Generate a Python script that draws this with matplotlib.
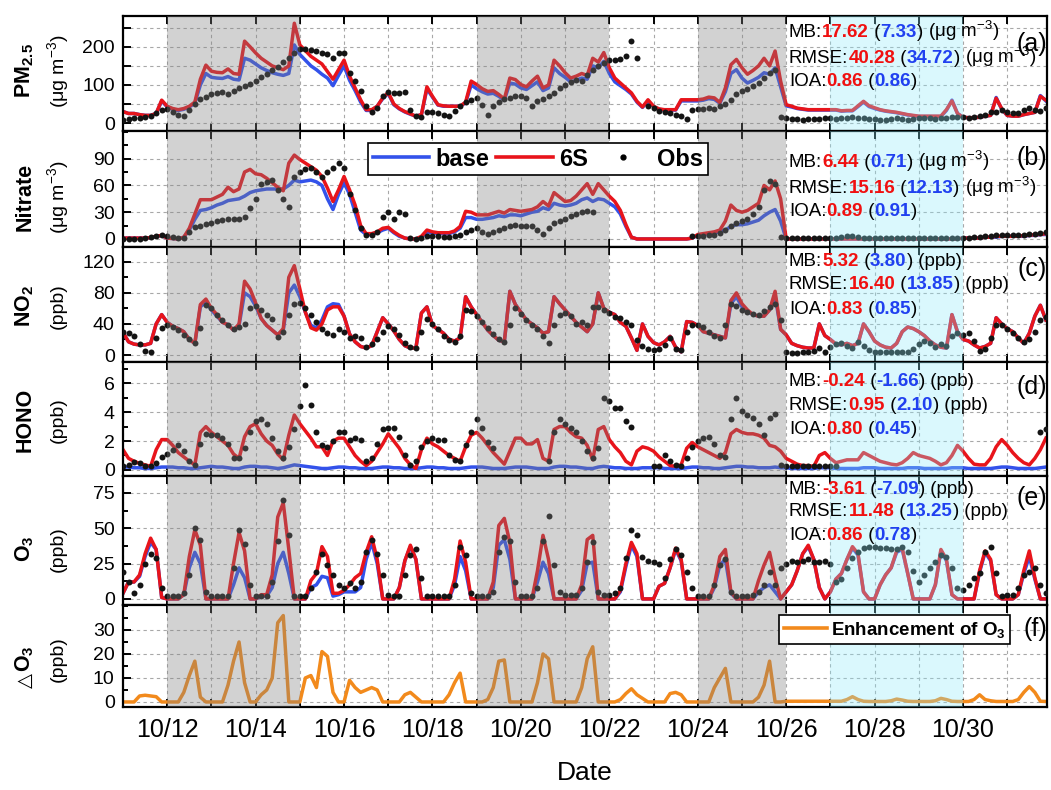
import numpy as np
import matplotlib
matplotlib.use("Agg")
import matplotlib.pyplot as plt
from matplotlib.lines import Line2D
from matplotlib.ticker import MultipleLocator, FixedLocator, FuncFormatter
from matplotlib.offsetbox import TextArea, HPacker, AnchoredOffsetbox

plt.rcParams['font.family'] = ['Liberation Sans', 'DejaVu Sans']
plt.rcParams['mathtext.fontset'] = 'custom'
plt.rcParams['mathtext.rm'] = 'Liberation Sans'
plt.rcParams['mathtext.bf'] = 'Liberation Sans:bold'
plt.rcParams['mathtext.it'] = 'Liberation Sans:italic'
plt.rcParams['mathtext.default'] = 'regular'

nan = np.nan

# ---- data: one row per day (10/11 .. 10/31), values every 3 h (00,03,...,21) ----
days = list(range(11, 32))
hours = [0, 3, 6, 9, 12, 15, 18, 21]

pm_6s = [
    [30, 25, 25, 22, 20, 20, 25, 60], [44, 38, 35, 38, 44, 55, 115, 152],
    [136, 133, 132, 142, 130, 128, 215, 200], [184, 170, 160, 150, 145, 140, 150, 262],
    [205, 190, 175, 165, 155, 135, 115, 140], [165, 123, 92, 61, 35, 35, 44, 66],
    [80, 50, 38, 30, 24, 18, 22, 95], [70, 48, 45, 44, 44, 44, 55, 110],
    [101, 90, 83, 85, 75, 63, 118, 114], [101, 95, 110, 123, 92, 100, 165, 150],
    [132, 118, 123, 130, 125, 170, 160, 185], [145, 118, 105, 92, 79, 57, 42, 61],
    [44, 37, 35, 35, 35, 61, 61, 61], [61, 63, 68, 66, 54, 92, 153, 167],
    [145, 128, 138, 150, 170, 150, 189, 110], [48, 44, 39, 37, 35, 35, 35, 35],
    [35, 35, 32, 33, 33, 45, 57, 45], [40, 35, 32, 30, 28, 25, 22, 20],
    [18, 18, 18, 18, 18, 35, 58, 25], [15, 14, 14, 15, 18, 20, 65, 38],
    [20, 18, 18, 22, 25, 28, 70, 60]]
pm_base = [
    [30, 25, 25, 22, 20, 20, 25, 58], [42, 36, 33, 36, 42, 52, 100, 130],
    [120, 118, 117, 122, 115, 113, 170, 165], [155, 145, 138, 132, 128, 125, 130, 205],
    [180, 165, 150, 140, 128, 118, 98, 125], [150, 112, 85, 55, 33, 33, 44, 64],
    [78, 48, 37, 29, 23, 18, 22, 90], [68, 47, 44, 44, 44, 44, 53, 100],
    [90, 82, 76, 78, 70, 60, 105, 102], [92, 88, 98, 108, 85, 92, 145, 130],
    [120, 108, 112, 118, 115, 150, 145, 162], [130, 108, 98, 88, 76, 55, 41, 58],
    [43, 36, 34, 34, 34, 58, 58, 58], [58, 60, 64, 62, 52, 82, 130, 140],
    [118, 105, 112, 120, 132, 128, 145, 95], [45, 42, 38, 36, 34, 34, 34, 34],
    [34, 34, 31, 32, 32, 43, 55, 43], [38, 34, 31, 29, 27, 24, 21, 19],
    [17, 17, 17, 17, 17, 33, 60, 25], [15, 14, 14, 15, 18, 20, 67, 36],
    [20, 18, 18, 22, 25, 28, 72, 58]]
pm_obs = [
    [9, 10, 13, 12, 15, 18, 25, 35], [38, 28, 22, 18, 35, 50, 62, 68],
    [75, 80, 82, 77, 85, 92, 98, 103], [110, 120, 128, 138, 148, 160, 172, 185],
    [195, 195, 193, 190, 185, 180, 170, 185], [185, 130, 110, 85, 45, 30, 40, 70],
    [82, 80, 78, 82, 35, 18, 15, 28], [30, 26, 20, 18, 32, 45, 55, 60],
    [65, 48, 22, 45, 55, 62, 65, 70], [72, 65, 45, 58, 62, 72, 80, 92],
    [100, 108, 112, 110, 125, 140, 150, 158], [165, 165, 168, 175, 215, 170, nan, 45],
    [40, 32, 28, 25, 22, 18, 10, 35], [38, 38, 40, 38, 45, 50, 60, 75],
    [85, 90, 96, 105, 118, 130, 140, 16], [12, 10, 10, 8, 10, 10, 10, 12],
    [12, 10, 12, 14, 16, 14, 12, 10], [10, 8, 8, 10, 12, 10, 8, 10],
    [12, 14, 12, 10, 12, 14, 16, 15], [15, 14, 15, 18, 22, 28, 30, 35],
    [30, 26, 25, 35, 40, 35, 32, 40]]

no3_6s = [
    [1, 1, 1, 1, 1, 1.5, 3, 4], [1, 0.5, 0, 2, 12, 28, 44, 44],
    [44, 47, 50, 58, 53, 56, 75, 78], [73, 72, 68, 63, 58, 54, 85, 94],
    [89, 85, 81, 77, 70, 57, 42, 55], [70, 55, 38, 15, 6, 6, 8, 12],
    [13, 8, 4, 1, 0, 0, 3, 10], [8, 7, 7, 7, 9, 14, 31, 30],
    [27, 27, 27, 29, 31, 29, 33, 32], [31, 32, 33, 36, 42, 37, 52, 47],
    [42, 43, 48, 55, 62, 50, 62, 55], [48, 42, 32, 16, 2, 0, 0, 0],
    [0, 0, 0, 0, 0, 0, 0, 1], [5, 6, 7, 8, 10, 20, 38, 32],
    [30, 32, 36, 40, 60, 55, 65, 45], [0, 0, 0, 0, 0, 0, 0, 0],
    [0, 0, 0, 0, 0, 0, 0, 0], [0, 0, 0, 0, 0, 0, 0, 0],
    [0, 0, 0, 0, 0, 0, 0, 0], [1, 1, 1, 1, 2, 2, 3, 3],
    [3, 3, 3, 4, 4, 5, 5, 6]]
no3_base = [
    [1, 1, 1, 1, 1, 1.5, 3, 4], [1, 0.5, 0, 2, 10, 22, 32, 33],
    [35, 38, 40, 43, 44, 45, 48, 52], [54, 55, 56, 56, 56, 56, 60, 66],
    [64, 65, 66, 64, 60, 45, 33, 50], [63, 50, 30, 10, 5, 5, 7, 10],
    [12, 7, 3, 1, 0, 0, 2, 8], [7, 6, 6, 6, 8, 12, 24, 24],
    [22, 22, 23, 24, 26, 25, 27, 27], [26, 28, 30, 31, 35, 33, 40, 38],
    [37, 38, 40, 44, 46, 42, 45, 44], [40, 36, 28, 14, 2, 0, 0, 0],
    [0, 0, 0, 0, 0, 0, 0, 1], [4, 5, 6, 7, 8, 10, 14, 16],
    [16, 17, 19, 21, 26, 30, 33, 20], [0, 0, 0, 0, 0, 0, 0, 0],
    [0, 0, 0, 0, 0, 0, 0, 0], [0, 0, 0, 0, 0, 0, 0, 0],
    [0, 0, 0, 0, 0, 0, 0, 0], [1, 1, 1, 1, 2, 2, 2, 3],
    [3, 3, 3, 3, 4, 4, 5, 5]]
no3_obs = [
    [0.5, 0.5, 0.5, 0.5, 1, 2, 3, 4], [3, 2, 1, 1, 8, 13, 15, 17],
    [18, 20, 21, 22, 22, 22, 25, 35], [45, 62, 64, 66, 55, 45, 36, 70],
    [75, 78, 80, 75, 70, 75, 80, 85], [80, 50, 33, 12, 5, 4, 8, 25],
    [30, 22, 30, 28, 1, 0, 1, 3], [3, 3, 2, 2, 3, 5, 8, 10],
    [12, 8, 6, 8, 10, 12, 14, 16], [15, 14, 14, 10, 6, 12, 18, 20],
    [22, 26, 28, 30, 31, 30, nan, nan], [nan, nan, nan, nan, nan, nan, nan, nan],
    [nan, nan, nan, nan, nan, nan, nan, 3], [3, 3, 4, 5, 7, 10, 14, 18],
    [20, 22, 28, 36, 55, 65, 62, 2], [1, 1, 1, 1, 1, 1, 1, 1],
    [1, 1, 2, 3, 3, 2, 1, 1], [1, 1, 1, 1, 1, 1, 1, 1],
    [1, 1, 1, 1, 1, 1, 1, 1], [1, 1, 2, 2, 3, 3, 4, 4],
    [4, 4, 5, 5, 6, 6, 7, 8]]

no2_6s = [
    [29, 17, 14, 13, 13, 15, 40, 52], [42, 37, 34, 30, 20, 15, 65, 72],
    [60, 52, 42, 39, 32, 40, 95, 85], [67, 47, 38, 32, 26, 34, 100, 115],
    [85, 55, 35, 32, 40, 58, 62, 62], [50, 27, 17, 11, 9, 12, 30, 48],
    [40, 31, 20, 12, 9, 9, 54, 62], [38, 33, 28, 20, 18, 22, 75, 62],
    [52, 42, 32, 25, 19, 17, 82, 65], [55, 45, 40, 35, 28, 30, 75, 66],
    [58, 50, 42, 36, 30, 40, 80, 60], [55, 52, 42, 37, 22, 6, 40, 24],
    [16, 13, 17, 24, 10, 4, 43, 42], [38, 30, 28, 26, 24, 22, 70, 80],
    [66, 58, 52, 50, 50, 58, 82, 33], [26, 15, 12, 10, 9, 9, 40, 25],
    [20, 14, 13, 15, 12, 15, 40, 30], [18, 13, 10, 9, 15, 30, 36, 34],
    [30, 25, 18, 13, 10, 9, 52, 30], [20, 18, 13, 9, 11, 15, 48, 40],
    [34, 30, 22, 15, 28, 50, 64, 45]]
no2_base = [
    [29, 17, 14, 13, 13, 15, 40, 52], [42, 37, 34, 30, 20, 15, 62, 68],
    [58, 50, 42, 39, 32, 38, 80, 75], [63, 47, 38, 32, 26, 32, 80, 90],
    [75, 55, 38, 35, 45, 62, 66, 65], [50, 27, 17, 11, 9, 12, 30, 48],
    [40, 31, 20, 12, 9, 9, 54, 62], [38, 33, 28, 20, 18, 22, 75, 62],
    [52, 42, 32, 25, 19, 17, 82, 65], [55, 45, 40, 35, 28, 30, 75, 66],
    [58, 50, 42, 36, 30, 40, 80, 60], [55, 52, 42, 37, 22, 6, 40, 24],
    [16, 13, 17, 24, 10, 4, 43, 42], [38, 30, 28, 26, 24, 22, 66, 75],
    [62, 56, 52, 50, 50, 58, 76, 33], [26, 15, 12, 10, 9, 9, 40, 25],
    [20, 14, 13, 15, 12, 15, 40, 30], [18, 13, 10, 9, 15, 30, 36, 34],
    [30, 25, 18, 13, 10, 9, 52, 30], [20, 18, 13, 9, 11, 15, 48, 40],
    [34, 30, 22, 15, 28, 50, 64, 45]]
no2_obs = [
    [30, 28, 25, 14, 5, 4, 22, 35], [38, 36, 32, 26, 20, 15, 35, 64],
    [60, 52, 45, 38, 34, 36, 40, 60], [63, 58, 52, 46, 23, 30, 52, 66],
    [67, 60, 52, 42, 34, 28, 26, 34], [30, 22, 24, 22, 10, 14, 20, 30],
    [37, 33, 26, 15, 10, 9, 30, 46], [40, 33, 25, 19, 17, 24, 58, 56],
    [50, 42, 35, 27, 20, 17, 38, 60], [53, 45, 39, 33, 24, 15, 38, 52],
    [54, 50, 40, 43, 38, 62, 62, 58], [54, 49, 47, 43, 38, 19, 12, 8],
    [6, 8, 13, 22, 8, 6, 30, 39], [39, 36, 30, 25, 22, 38, 66, 63],
    [58, 55, 53, 52, 56, 62, 66, 45], [4, 3, 3, 4, 4, 5, 9, 4],
    [10, 14, 16, 12, 9, 17, 12, 6], [4, 4, 4, 4, 4, 4, 4, 8],
    [14, 18, 16, 10, 14, 12, 24, 28], [26, 28, 18, 5, 8, 22, 38, 38],
    [34, 28, 22, 17, 20, 30, 45, 49]]

hono_6s = [
    [1.4, 0.8, 0.6, 0.45, 0.35, 0.25, 1.4, 2.1], [2.1, 1.7, 1.2, 0.9, 0.6, 0.35, 2.6, 3.0],
    [2.6, 2.3, 2.0, 1.7, 1.1, 0.8, 2.3, 3.0], [3.2, 2.5, 2.0, 1.7, 1.1, 0.7, 2.4, 3.8],
    [3.2, 2.7, 2.2, 1.6, 1.6, 1.0, 2.0, 2.2], [2.2, 1.6, 1.0, 0.6, 0.3, 0.6, 1.2, 1.8],
    [2.5, 2.0, 1.5, 0.8, 0.35, 0.1, 1.4, 2.2], [1.8, 1.6, 1.3, 1.0, 0.8, 0.6, 1.6, 2.4],
    [2.6, 2.2, 1.7, 1.2, 0.8, 0.4, 1.3, 2.2], [2.2, 1.8, 1.8, 2.1, 0.8, 0.6, 2.8, 3.0],
    [3.0, 2.6, 2.3, 2.2, 1.7, 0.7, 2.8, 3.0], [2.1, 1.6, 1.2, 0.6, 0.35, 1.3, 1.6, 1.5],
    [1.3, 0.9, 0.6, 0.3, 0.25, 0.35, 1.5, 1.9], [1.6, 1.4, 1.2, 1.0, 0.8, 1.2, 2.5, 2.8],
    [2.6, 2.5, 2.5, 2.4, 2.2, 1.7, 1.6, 1.3], [0.8, 0.6, 0.4, 0.3, 0.3, 0.25, 1.0, 1.2],
    [0.8, 0.5, 0.6, 0.7, 0.7, 0.7, 1.2, 1.0], [0.8, 0.6, 0.5, 0.4, 0.35, 0.5, 0.8, 1.2],
    [1.0, 0.9, 0.8, 0.6, 0.35, 0.5, 1.0, 1.7], [1.3, 0.8, 0.4, 0.35, 0.35, 0.8, 1.6, 2.1],
    [1.7, 1.2, 0.8, 0.5, 0.35, 0.8, 1.4, 2.2]]
hono_base = [
    [0.2, 0.2, 0.15, 0.15, 0.1, 0.1, 0.15, 0.2], [0.2, 0.2, 0.15, 0.15, 0.1, 0.1, 0.15, 0.2],
    [0.25, 0.2, 0.2, 0.15, 0.1, 0.1, 0.2, 0.25], [0.25, 0.2, 0.2, 0.15, 0.1, 0.15, 0.25, 0.35],
    [0.3, 0.25, 0.2, 0.15, 0.1, 0.1, 0.15, 0.2], [0.2, 0.15, 0.15, 0.1, 0.1, 0.1, 0.15, 0.2],
    [0.2, 0.15, 0.15, 0.1, 0.1, 0.1, 0.15, 0.2], [0.2, 0.15, 0.15, 0.1, 0.1, 0.1, 0.15, 0.2],
    [0.2, 0.2, 0.15, 0.1, 0.1, 0.1, 0.15, 0.2], [0.2, 0.2, 0.15, 0.1, 0.1, 0.1, 0.2, 0.25],
    [0.25, 0.2, 0.2, 0.15, 0.1, 0.1, 0.2, 0.25], [0.2, 0.15, 0.15, 0.1, 0.1, 0.1, 0.15, 0.15],
    [0.15, 0.15, 0.1, 0.1, 0.1, 0.1, 0.15, 0.2], [0.2, 0.15, 0.15, 0.1, 0.1, 0.15, 0.2, 0.25],
    [0.25, 0.2, 0.2, 0.15, 0.15, 0.15, 0.2, 0.15], [0.15, 0.1, 0.1, 0.1, 0.1, 0.1, 0.15, 0.15],
    [0.15, 0.1, 0.1, 0.1, 0.1, 0.1, 0.15, 0.15], [0.15, 0.1, 0.1, 0.1, 0.1, 0.1, 0.15, 0.15],
    [0.15, 0.1, 0.1, 0.1, 0.1, 0.1, 0.15, 0.15], [0.15, 0.1, 0.1, 0.1, 0.1, 0.1, 0.15, 0.2],
    [0.2, 0.15, 0.1, 0.1, 0.1, 0.1, 0.15, 0.2]]
hono_obs = [
    [0.25, 0.35, 0.55, 0.45, 0.25, 0.25, 0.5, 0.9], [1.1, 1.4, 1.7, 1.3, 0.6, 0.35, 1.8, 2.5],
    [2.4, 2.4, 2.2, 1.8, 0.8, 0.8, 1.5, 2.6], [3.4, 3.5, 3.2, 2.2, 1.3, 0.8, 1.6, 2.8],
    [4.4, 5.9, 4.5, 2.6, 1.7, 1.6, 2.0, 2.6], [2.6, 2.1, 2.2, 2.1, 0.6, 0.8, 1.8, 2.8],
    [2.9, 2.9, 2.3, 1.0, 0.35, 0.6, 1.6, 2.0], [2.2, 2.1, 2.1, 1.0, 0.7, 0.6, 1.7, 2.6],
    [3.5, 2.9, 1.9, 1.5, nan, nan, nan, nan], [nan, nan, nan, nan, nan, 0.6, 2.6, 3.5],
    [3.2, 2.9, 2.6, 2.0, 1.3, 0.8, 1.5, 5.0], [4.8, 4.3, 4.3, 3.4, 3.0, nan, nan, nan],
    [0.25, 0.25, 1.0, 0.6, 0.35, 0.25, 0.8, 1.6], [2.0, 2.2, 2.3, 1.8, 1.0, 0.9, 3.5, 5.0],
    [4.1, 3.8, 3.6, 3.2, 2.4, 3.6, 3.9, 0.35], [0.25, 0.25, 0.25, 0.25, 0.3, 0.25, 0.25, 0.3],
    [0.3, 0.3, nan, nan, nan, nan, nan, nan], [nan, nan, nan, nan, nan, nan, nan, nan],
    [nan, nan, nan, nan, nan, nan, nan, nan], [nan, nan, nan, nan, nan, nan, nan, nan],
    [nan, nan, nan, nan, nan, nan, 2.6, 2.8]]

o3_6s = [
    [4, 12, 12, 17, 32, 43, 35, 1], [0, 0, 0, 3, 30, 49, 38, 0],
    [0, 0, 0, 0, 25, 47, 34, 0], [0, 3, 3, 17, 58, 68, 35, 0],
    [0, 0, 13, 18, 37, 30, 4, 4], [6, 10, 15, 18, 33, 44, 28, 0],
    [0, 0, 8, 27, 38, 28, 0, 0], [0, 0, 0, 0, 14, 41, 26, 0],
    [0, 0, 0, 12, 52, 57, 40, 0], [0, 0, 0, 20, 45, 28, 0, 0],
    [0, 0, 0, 10, 42, 45, 0, 0], [0, 0, 6, 25, 40, 32, 0, 0],
    [0, 9, 11, 22, 36, 28, 0, 0], [0, 0, 0, 10, 30, 35, 5, 0],
    [0, 0, 0, 13, 24, 33, 15, 0], [5, 10, 20, 32, 38, 28, 8, 0],
    [5, 14, 18, 28, 37, 32, 5, 0], [0, 10, 17, 22, 34, 36, 18, 0],
    [0, 0, 0, 10, 35, 28, 3, 0], [0, 0, 0, 20, 34, 28, 3, 0],
    [0, 0, 3, 20, 34, 15, 0, 0]]
o3_base = [
    [4, 12, 12, 16, 30, 40, 35, 1], [0, 0, 0, 3, 22, 33, 25, 0],
    [0, 0, 0, 0, 10, 22, 15, 0], [0, 2, 2, 8, 25, 33, 18, 0],
    [0, 0, 8, 10, 16, 15, 2, 3], [5, 5, 5, 8, 28, 40, 25, 0],
    [0, 0, 8, 27, 37, 28, 0, 0], [0, 0, 0, 0, 10, 30, 20, 0],
    [0, 0, 0, 8, 38, 42, 28, 0], [0, 0, 0, 12, 26, 18, 0, 0],
    [0, 0, 0, 6, 25, 26, 0, 0], [0, 0, 5, 23, 38, 30, 0, 0],
    [0, 9, 11, 22, 35, 27, 0, 0], [0, 0, 0, 8, 24, 28, 4, 0],
    [0, 0, 0, 5, 8, 10, 5, 0], [5, 10, 20, 32, 37, 28, 8, 0],
    [5, 14, 18, 28, 36, 31, 5, 0], [0, 10, 17, 22, 33, 35, 18, 0],
    [0, 0, 0, 10, 34, 27, 3, 0], [0, 0, 0, 19, 33, 27, 3, 0],
    [0, 0, 3, 18, 30, 14, 0, 0]]
o3_obs = [
    [19, 12, 4, 10, 25, 32, 29, 8], [2, 2, 2, 4, 17, 50, 42, 5],
    [2, 2, 2, 2, 22, 49, 39, 10], [2, 2, 2, 12, 41, 70, 45, 2],
    [2, 2, 8, 19, 32, 24, 17, 10], [8, 11, 8, 12, 33, 42, 32, 17],
    [3, 2, 2, 17, 31, 35, 15, 2], [2, 2, 2, 2, 10, 37, 31, 4],
    [2, 2, 2, 5, 33, 44, 41, 12], [2, 2, 2, 8, 41, 59, 24, 5],
    [3, 3, 3, 8, 26, 40, 5, 3], [3, 4, 8, 29, 49, 45, 30, 27],
    [26, 25, 15, 28, 35, 31, 19, 8], [2, 2, 2, 10, 24, 28, 5, 2],
    [2, 2, 3, 5, 10, 19, 10, 22], [25, 27, 26, 27, 28, 26, 26, 27],
    [25, 12, 14, 22, 29, 33, 36, 37], [37, 36, 36, 35, 35, 37, 33, 20],
    [12, 17, 22, 26, 31, 30, 22, 8], [6, 10, 15, 18, 33, 37, 18, 2],
    [3, 3, 8, 17, 19, 22, 10, 4]]

do3 = [
    [0, 0, 0, 2.5, 2.8, 2.5, 2.2, 0], [0, 0, 0, 4, 11, 17, 2, 0],
    [0, 0, 0, 7, 17, 25, 8, 0], [0, 3, 5, 10, 33, 36, 0, 0],
    [0, 10, 11, 6, 21, 19, 4, 0], [0, 9, 6, 4, 5, 6, 5, 0],
    [0, 0, 0, 3, 4, 2, 0, 0], [0, 0, 0, 3, 8, 12, 0, 0],
    [0, 0, 1, 6, 17, 17.5, 0, 0], [0, 0, 0, 8, 20, 18, 0, 0],
    [0, 0, 0, 6, 18, 23, 0, 0], [0, 0, 1, 3.5, 5.5, 3, 1.5, 0],
    [0, 0, 0, 3.5, 4, 3, 0, 0], [0, 0, 0, 6, 10, 14, 0, 0],
    [0, 0, 0, 2, 7, 17, 0, 0], [0.3, 0.3, 0.3, 0.3, 0.3, 0.3, 0.3, 0.3],
    [0.3, 0.3, 0.3, 1, 2.2, 1, 0.3, 0.2], [0.2, 0.2, 0.2, 0.5, 1.2, 0.8, 0.3, 0.2],
    [0.2, 0.2, 0.2, 0.5, 1.5, 1, 0.3, 0.2], [0.2, 0.2, 1, 3, 1, 0.5, 0.2, 0.2],
    [0.2, 0.2, 1, 4, 6.4, 4, 0.3, 0.2]]

# statistics text: (MB, RMSE, IOA) as (6S, base)
stats = {
    'a': [('17.62', '7.33'), ('40.28', '34.72'), ('0.86', '0.86')],
    'b': [('6.44', '0.71'), ('15.16', '12.13'), ('0.89', '0.91')],
    'c': [('5.32', '3.80'), ('16.40', '13.85'), ('0.83', '0.85')],
    'd': [('-0.24', '-1.66'), ('0.95', '2.10'), ('0.80', '0.45')],
    'e': [('-3.61', '-7.09'), ('11.48', '13.25'), ('0.86', '0.78')],
}
units = {'a': '(μg m$^{-3}$)', 'b': '(μg m$^{-3}$)', 'c': '(ppb)', 'd': '(ppb)', 'e': '(ppb)'}

gray_spans = [(12, 15), (19, 22), (24, 26)]
blue_span = (27, 30)

# ---- figure ----
W, H = 1051, 790
RED = '#e8141b'
BLUE = '#3352ea'
ORANGE = '#f28a1c'
TRED = '#f01010'
TBLUE = '#2040f0'

t = (np.array(days)[:, None] + np.array(hours)[None, :] / 24.0).ravel()


def flat(rows):
    return np.array(rows, dtype=float).ravel()


fig = plt.figure(figsize=(W / 100, H / 100), dpi=100)

# panel pixel extents (top, bottom)
extents = [(16, 131), (131, 247), (247, 362), (362, 476), (476, 605), (605, 707)]
axes = []
for top, bot in extents:
    ax = fig.add_axes([123 / W, 1 - bot / H, 924 / W, (bot - top) / H])
    axes.append(ax)

ylims = [(-21, 281), (-9, 121), (-9, 139), (-0.42, 7.47), (-4.3, 87), (-2.1, 40.4)]
ymajor = [[0, 50, 100, 150, 200, 250], [0, 30, 60, 90], [0, 40, 80, 120], [0, 2, 4, 6],
          [0, 25, 50, 75], [0, 10, 20, 30]]
yminor = [None, 15, 20, 1, 12.5, 5]

for i, ax in enumerate(axes):
    ax.set_xlim(11, 31.9)
    ax.set_ylim(*ylims[i])
    ax.xaxis.set_major_locator(MultipleLocator(1))
    ax.yaxis.set_major_locator(FixedLocator(ymajor[i]))
    if yminor[i]:
        ax.yaxis.set_minor_locator(MultipleLocator(yminor[i]))
    ax.tick_params(which='both', direction='in', top=True, bottom=True, left=True, right=False,
                   width=1.4, labelsize=14, pad=6)
    ax.tick_params(which='major', length=6)
    ax.tick_params(which='minor', length=3.5)
    for s in ax.spines.values():
        s.set_linewidth(1.6)
    ax.set_axisbelow(True)
    ax.grid(True, which='major', ls=(0, (3, 3)), color='#a8a8a8', lw=0.8)
    for a, b in gray_spans:
        ax.axvspan(a, b, color='#808080', alpha=0.35, lw=0, zorder=4)
    ax.axvspan(*blue_span, color='#8ceafa', alpha=0.32, lw=0, zorder=4)
    if i < 5:
        ax.tick_params(axis='x', labelbottom=False)

# panel a: labels only at 0/100/200
axes[0].yaxis.set_major_formatter(FuncFormatter(lambda v, p: '%d' % v if abs(v % 100) < 1e-6 else ''))
axes[5].xaxis.set_major_formatter(FuncFormatter(lambda v, p: '10/%d' % v if int(round(v)) % 2 == 0 and 12 <= v <= 30 else ''))
axes[5].tick_params(axis='x', labelsize=18, pad=8)

series = [(pm_base, pm_6s, pm_obs), (no3_base, no3_6s, no3_obs), (no2_base, no2_6s, no2_obs),
          (hono_base, hono_6s, hono_obs), (o3_base, o3_6s, o3_obs)]
for ax, (base, s6, obs) in zip(axes, series):
    ax.plot(t, flat(base), color=BLUE, lw=2.5, zorder=2)
    ax.plot(t, flat(s6), color=RED, lw=2.5, zorder=2.5)
    ax.plot(t, flat(obs), 'o', ms=4.3, color='#141414', mec='none', zorder=3)

axes[5].plot(t, flat(do3), color=ORANGE, lw=2.5, zorder=2)

# legends
h = [Line2D([], [], color=BLUE, lw=2.6), Line2D([], [], color=RED, lw=2.6),
     Line2D([], [], ls='none', marker='o', ms=3.5, color='k')]
lg = axes[1].legend(h, ['base', '6S', 'Obs'], ncol=3, loc='upper left',
                    bbox_to_anchor=(368 / W, 1 - 143 / H), bbox_transform=fig.transFigure,
                    borderaxespad=0, prop={'weight': 'bold', 'size': 17}, handlelength=2.4,
                    handletextpad=0.25, columnspacing=0.3, borderpad=0.2, fancybox=False,
                    framealpha=1, edgecolor='k')
lg.get_frame().set_linewidth(1.2)
lg.set_zorder(10)

lg2 = axes[5].legend([Line2D([], [], color=ORANGE, lw=2.6)], ['Enhancement of O$_\\mathbf{3}$'],
                     loc='upper left', bbox_to_anchor=(779 / W, 1 - 615 / H), bbox_transform=fig.transFigure,
                     borderaxespad=0, prop={'weight': 'bold', 'size': 13.5}, handlelength=2.3,
                     handletextpad=0.2, borderpad=0.25, fancybox=False, framealpha=1, edgecolor='k')
lg2.get_frame().set_linewidth(1.2)
lg2.set_zorder(10)


# statistics annotations
def stat_line(ax, x_px, y_px, parts):
    kids = [TextArea(s, textprops=dict(color=c, fontsize=13.5, weight=w)) for s, c, w in parts]
    pack = HPacker(children=kids, align='baseline', pad=0, sep=0)
    box = AnchoredOffsetbox(loc='center left', child=pack, pad=0, frameon=False, borderpad=0,
                            bbox_to_anchor=(x_px / W, 1 - y_px / H), bbox_transform=fig.transFigure)
    box.set_zorder(8)
    ax.add_artist(box)


stat_y = {'a': (31, 57, 81), 'b': (161, 187, 212), 'c': (262, 285, 309),
          'd': (381, 406, 430), 'e': (490, 512, 535)}
names = ['MB:', 'RMSE:', 'IOA:']
for k, key in enumerate('abcde'):
    for j in range(3):
        v6, vb = stats[key][j]
        parts = [(names[j], 'k', 'normal'), (v6, TRED, 'bold'), (' (', 'k', 'normal'),
                 (vb, TBLUE, 'bold'), (')', 'k', 'normal')]
        if j < 2:
            parts.append((' ' + units[key], 'k', 'normal'))
        stat_line(axes[k], 789, stat_y[key][j], parts)

# panel letters
letter_y = [44, 158, 269, 387, 498, 629]
for ax, lab, y in zip(axes, 'abcdef', letter_y):
    fig.text(1047 / W, 1 - y / H, '(%s)' % lab, ha='right', va='center', fontsize=18, zorder=9)

# y labels (two lines each)
ylab = [('PM$_\\mathbf{2.5}$', '(μg m$^{-3}$)', 71), ('Nitrate', '(μg m$^{-3}$)', 197),
        ('NO$_\\mathbf{2}$', '(ppb)', 306), ('HONO', '(ppb)', 420),
        ('O$_\\mathbf{3}$', '(ppb)', 549), ('O$_\\mathbf{3}$', '(ppb)', 659)]
for l1, l2, y in ylab:
    fig.text(25 / W, 1 - y / H, l1, rotation=90, ha='center', va='center', fontsize=15.5, weight='bold')
    fig.text(58 / W, 1 - y / H, l2, rotation=90, ha='center', va='center', fontsize=14)
# the triangle of the delta-O3 label needs a font that has the glyph
fig.text(25 / W, 1 - 680 / H, '△', rotation=90, ha='center', va='center', fontsize=14,
         weight='bold', family='DejaVu Sans')

fig.text(585 / W, 1 - 773 / H, 'Date', ha='center', va='center', fontsize=19)

fig.savefig('out.png', dpi=100)
